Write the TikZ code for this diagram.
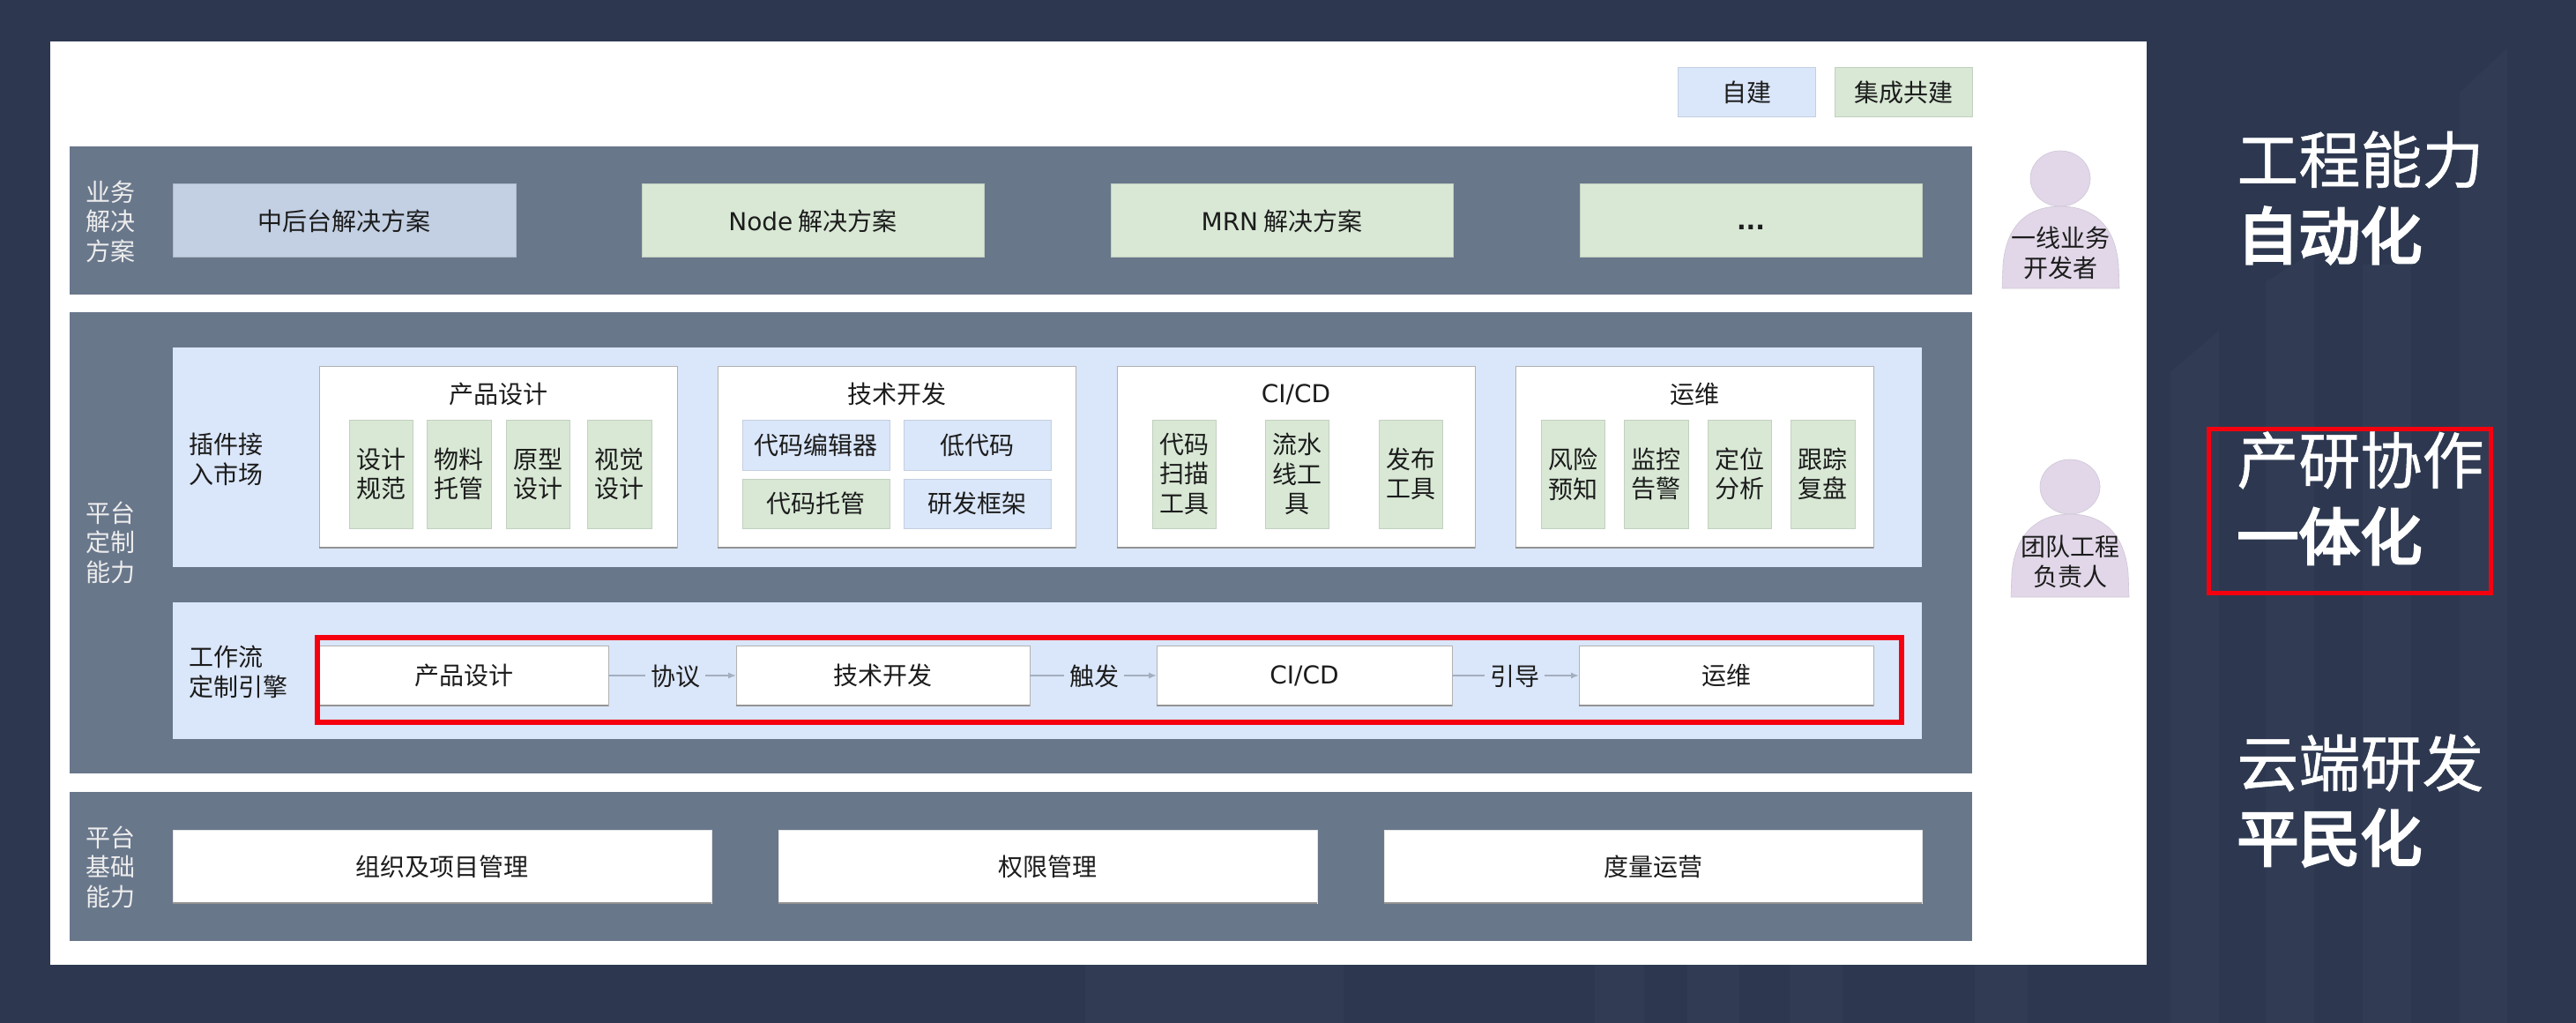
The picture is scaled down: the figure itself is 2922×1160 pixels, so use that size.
\documentclass[tikz,border=0pt]{standalone}
\usepackage{fontspec}
\setmainfont{Noto Sans CJK SC}
\newfontfamily\latinf{DejaVu Sans}
\newfontfamily\medf[FakeBold=0.7]{Noto Sans CJK SC}
\newfontfamily\strongf[FakeBold=4]{Noto Sans CJK SC}
\usetikzlibrary{arrows.meta,shapes.geometric}
\definecolor{bgc}{HTML}{2D3850}
\definecolor{bandc}{HTML}{69778B}
\definecolor{blueL}{HTML}{DAE6F9}
\definecolor{greenL}{HTML}{D8E8D5}
\definecolor{slateL}{HTML}{C3D0E3}
\definecolor{purpL}{HTML}{E1D7E8}
\definecolor{ink}{HTML}{1C1C1C}
\definecolor{redb}{HTML}{F5000F}
\definecolor{edgec}{HTML}{A3AEBF}
\tikzset{
  x=0.5pt,y=-0.5pt,
  box/.style={draw=#1!90!black,line width=0.5pt,inner sep=0,outer sep=0,text=ink,align=center,font=\fontsize{14}{16.8}\selectfont},
  lab/.style={inner sep=0,align=center,text=ink,font=\fontsize{14}{16.8}\selectfont},
  bandlab/.style={lab,text=white!93!black},
  big/.style={inner sep=0,anchor=west,text=white,font=\fontsize{35}{40}\selectfont\strongf},
  bigm/.style={inner sep=0,anchor=west,text=white,font=\fontsize{35}{40}\selectfont\medf},
  stripe/.style={fill=white,opacity=0.022},
  conn/.style={draw=edgec,line width=0.7pt,-{Latex[length=4.5pt,width=3.5pt]}},
  btm/.style={draw=gray!85,line width=0.9pt},
  rim/.style={draw=gray!60,line width=0.5pt},
  persona/.style={draw=purpL!92!black,line width=0.3pt,fill=purpL},
}
% rectangle helper: x1,y1,x2,y2, fill
\newcommand{\rbox}[5]{\node[box=#5,fill=#5,minimum width=#3*0.5pt-#1*0.5pt,minimum height=#4*0.5pt-#2*0.5pt] at ({(#1+#3)/2},{(#2+#4)/2})}
\begin{document}
\begin{tikzpicture}
\useasboundingbox (0,0) rectangle (2922,1160);
\fill[bgc] (0,0) rectangle (2922,1160);
% faint background stripes
\fill[stripe] (1231,1094) rectangle (1524,1160);
\fill[stripe] (1809,1094) rectangle (1865,1160);
\fill[stripe] (1914,1094) rectangle (1973,1160);
\fill[stripe] (2030,1094) rectangle (2090,1160);
\fill[stripe] (2240,1094) rectangle (2300,1160);
\fill[stripe] (2462,422) -- (2517,375) -- (2517,1160) -- (2462,1160) -- cycle;
\fill[stripe] (2570,320) -- (2625,285) -- (2625,1160) -- (2570,1160) -- cycle;
\fill[stripe] (2680,1160) rectangle (2735,300);
\fill[stripe] (2790,105) -- (2844,55) -- (2844,1160) -- (2790,1160) -- cycle;
\fill[white] (57,47) rectangle (2435,1094);
% legend
\rbox{1903}{77}{2059}{133}{blueL} (leg1) {自建};
\rbox{2081}{77}{2237}{133}{greenL} (leg2) {集成共建};
% bands
\fill[bandc] (79,166) rectangle (2237,334);
\fill[bandc] (79,354) rectangle (2237,877);
\fill[bandc] (79,898) rectangle (2237,1067);
\node[bandlab] (l1) at (125,251) {业务\\解决\\方案};
\node[bandlab] (l2) at (125,615) {平台\\定制\\能力};
\node[bandlab] (l3) at (125,983) {平台\\基础\\能力};
% row 1
\rbox{196}{209}{585}{292}{slateL} (s1) {中后台解决方案};
\rbox{728}{209}{1116}{292}{greenL} (s2) {{\latinf Node} 解决方案};
\rbox{1260}{209}{1648}{292}{greenL} (s3) {{\latinf MRN} 解决方案};
\rbox{1792}{209}{2180}{292}{greenL} (s4) {};
\node[lab,font=\fontsize{14}{16}\selectfont\latinf\bfseries] (s4t) at (1986,258) {...};
% plugin panel
\fill[blueL] (196,394) rectangle (2180,643);
\node[lab,align=left,anchor=west] (p0) at (214,521) {插件接\\入市场};
\rbox{362}{416}{768}{621}{white} (a) {};
\rbox{814}{416}{1220}{621}{white} (b) {};
\rbox{1267}{416}{1673}{621}{white} (c) {};
\rbox{1719}{416}{2125}{621}{white} (d) {};
\foreach \n in {a,b,c,d} {
  \draw[rim] (\n.south west) rectangle (\n.north east);
  \draw[btm] (\n.south west) -- (\n.south east);
}
\node[lab] (at) at (565,447) {产品设计};
\node[lab] (bt) at (1017,447) {技术开发};
\node[lab,font=\fontsize{14}{16}\selectfont\latinf] (ct) at (1470,447) {CI/CD};
\node[lab] (dt) at (1922,447) {运维};
\rbox{396}{476}{468}{599}{greenL} (a1) {设计\\规范};
\rbox{484}{476}{557}{599}{greenL} (a2) {物料\\托管};
\rbox{574}{476}{646}{599}{greenL} (a3) {原型\\设计};
\rbox{666}{476}{739}{599}{greenL} (a4) {视觉\\设计};
\rbox{842}{476}{1009}{533}{blueL} (b1) {代码编辑器};
\rbox{1025}{476}{1192}{533}{blueL} (b2) {低代码};
\rbox{842}{543}{1009}{599}{greenL} (b3) {代码托管};
\rbox{1025}{543}{1192}{599}{blueL} (b4) {研发框架};
\rbox{1307}{476}{1379}{599}{greenL} (c1) {代码\\扫描\\工具};
\rbox{1435}{476}{1507}{599}{greenL} (c2) {流水\\线工\\具};
\rbox{1564}{476}{1636}{599}{greenL} (c3) {发布\\工具};
\rbox{1748}{476}{1820}{599}{greenL} (d1) {风险\\预知};
\rbox{1842}{476}{1915}{599}{greenL} (d2) {监控\\告警};
\rbox{1937}{476}{2009}{599}{greenL} (d3) {定位\\分析};
\rbox{2031}{476}{2104}{599}{greenL} (d4) {跟踪\\复盘};
% workflow panel
\fill[blueL] (196,683) rectangle (2180,838);
\node[lab,align=left,anchor=west] (w0) at (214,762) {工作流\\定制引擎};
\rbox{362}{732}{690}{800}{white} (w1) {产品设计};
\rbox{835}{732}{1168}{800}{white} (w2) {技术开发};
\rbox{1312}{732}{1647}{800}{white} (w3) {\latinf CI/CD};
\rbox{1791}{732}{2125}{800}{white} (w4) {运维};
\foreach \n in {w1,w2,w3,w4} {
  \draw[rim] (\n.south west) rectangle (\n.north east);
  \draw[btm] (\n.south west) -- (\n.south east);
}
\draw[conn] (w1) -- (w2);
\draw[conn] (w2) -- (w3);
\draw[conn] (w3) -- (w4);
\node[lab,fill=blueL,inner xsep=3pt] (e1) at (766,767) {协议};
\node[lab,fill=blueL,inner xsep=3pt] (e2) at (1241,767) {触发};
\node[lab,fill=blueL,inner xsep=3pt] (e3) at (1718,767) {引导};
\draw[redb,line width=3pt] (360,723) rectangle (2157,819);
% bottom row
\rbox{196}{941}{807}{1024}{white} (f1) {组织及项目管理};
\rbox{883}{941}{1494}{1024}{white} (f2) {权限管理};
\rbox{1570}{941}{2180}{1024}{white} (f3) {度量运营};
\foreach \n in {f1,f2,f3} \draw[btm] (\n.south west) -- (\n.south east);
% persons
\node[ellipse,persona,minimum width=34pt,minimum height=31.5pt,inner sep=0] (h1) at (2337,202.5) {};
\filldraw[persona] (2271,327) -- (2272,300) .. controls (2276,255) and (2300,234) .. (2337,234) .. controls (2374,234) and (2399,255) .. (2403,300) -- (2404,327) -- cycle;
\node[lab] (t1) at (2337,287) {一线业务\\开发者};
\node[ellipse,persona,minimum width=34pt,minimum height=31pt,inner sep=0] (h2) at (2348,552) {};
\filldraw[persona] (2281,677) -- (2282,650) .. controls (2286,605) and (2311,583) .. (2348,583) .. controls (2385,583) and (2410,605) .. (2414,650) -- (2415,677) -- cycle;
\node[lab] (t2) at (2348,637) {团队工程\\负责人};
% right headings
\node[bigm] (r1) at (2537,181) {工程能力};
\node[big] (r2) at (2537,267) {自动化};
\node[bigm] (r3) at (2537,522) {产研协作};
\node[big] (r4) at (2537,608) {一体化};
\node[bigm] (r5) at (2537,865) {云端研发};
\node[big] (r6) at (2537,950) {平民化};
\draw[redb,line width=2.5pt] (2505,486) rectangle (2825,672);
\end{tikzpicture}
\end{document}
